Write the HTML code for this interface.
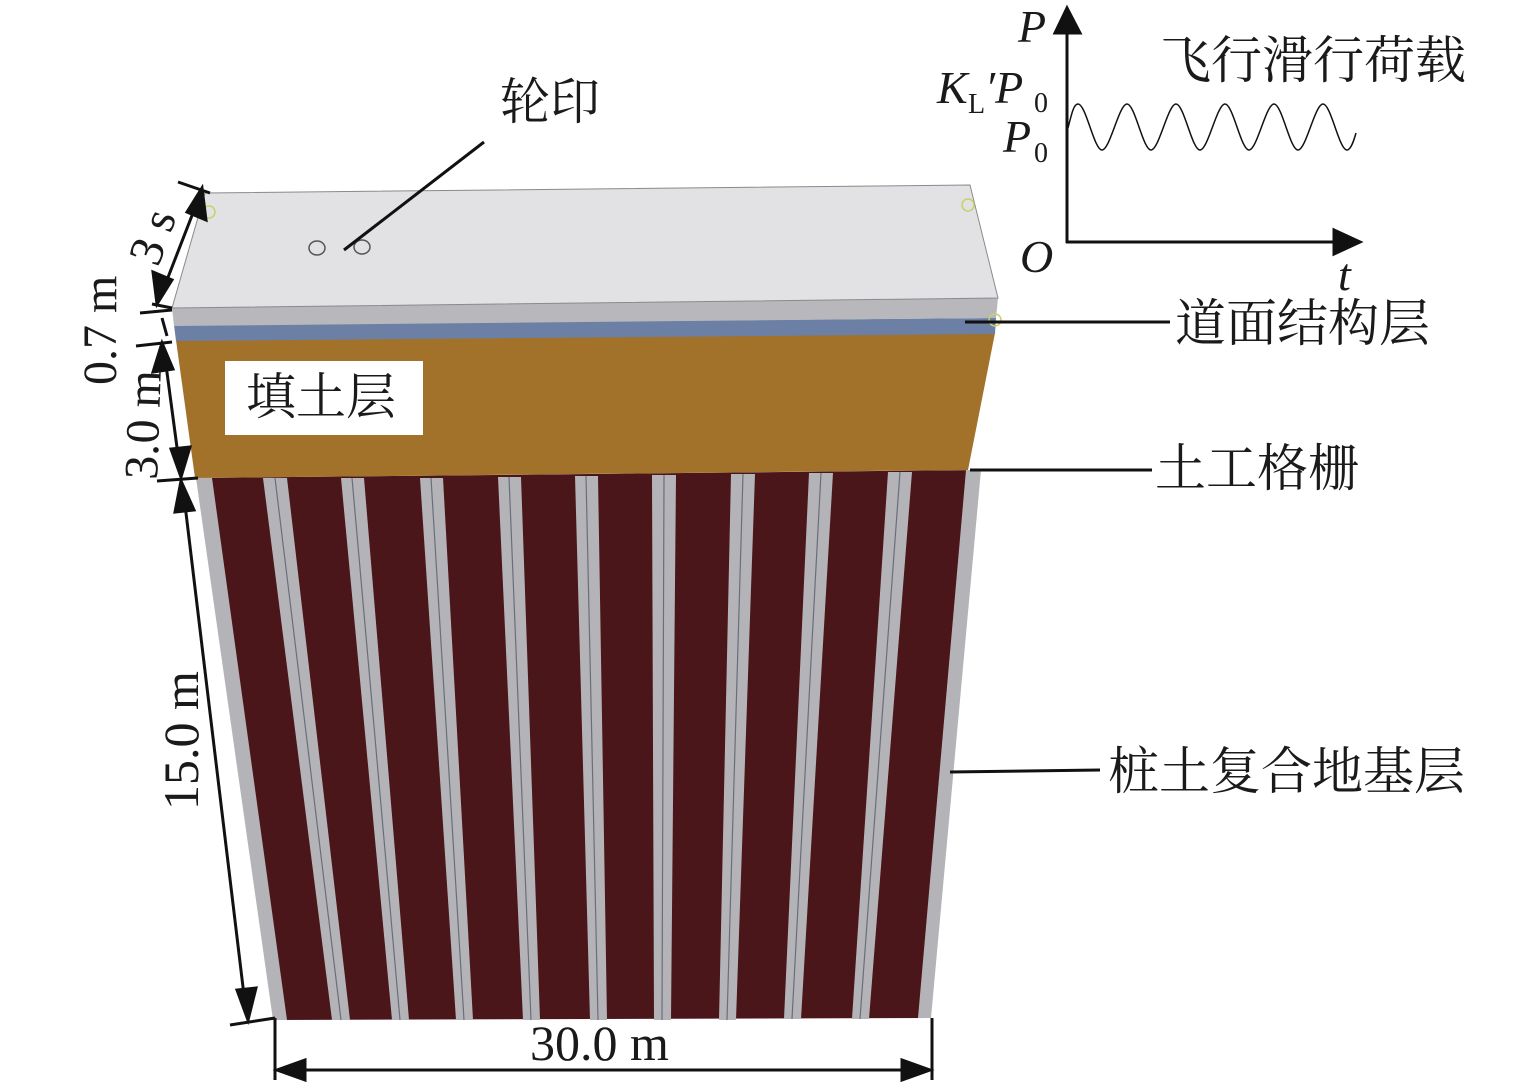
<!DOCTYPE html>
<html><head><meta charset="utf-8"><style>
html,body{margin:0;padding:0;background:#fff}
svg{display:block}
text{font-family:"Liberation Serif","Noto Serif CJK SC",serif;fill:#1a1a1a}
.cn{font-family:"Liberation Serif","Noto Serif CJK SC","Noto Sans CJK SC",serif}
</style></head><body>
<svg width="1535" height="1083" viewBox="0 0 1535 1083" xmlns="http://www.w3.org/2000/svg">
<!-- red pile block -->
<polygon points="198,478 980,470 930,1018 275,1020" fill="#4a161a"/>
<polygon points="196,478 212,478 287,1020 273,1020" fill="#b4b4b8"/>
<polygon points="966,470 981,470 931,1018 918,1018" fill="#b4b4b8"/>
<g fill="#b4b4b8">
<polygon points="263,478 287,478 350,1020 332,1020"/>
<polygon points="341,478 364,478 409,1020 392,1020"/>
<polygon points="420,478 443,478 473,1020 456,1020"/>
<polygon points="498,477 521,477 540,1020 523,1020"/>
<polygon points="575,476 598,476 607,1020 590,1020"/>
<polygon points="652,475 676,475 671,1020 654,1020"/>
<polygon points="731,474 755,474 736,1020 719,1020"/>
<polygon points="809,473 833,473 801,1019 784,1019"/>
<polygon points="888,472 912,472 869,1019 852,1019"/>
</g>
<g stroke="#6a6e7a" stroke-width="1.2">
<line x1="275" y1="478" x2="341" y2="1020"/>
<line x1="352" y1="478" x2="400" y2="1020"/>
<line x1="431" y1="478" x2="464" y2="1020"/>
<line x1="509" y1="477" x2="531" y2="1020"/>
<line x1="586" y1="476" x2="598" y2="1020"/>
<line x1="664" y1="475" x2="662" y2="1020"/>
<line x1="743" y1="474" x2="727" y2="1020"/>
<line x1="821" y1="473" x2="792" y2="1019"/>
<line x1="900" y1="472" x2="860" y2="1019"/>
</g>
<polygon points="176,340 995,333 968,470 195,478" fill="#a2722a"/>
<polygon points="174,325 996,318 995,334 176,341" fill="#6b80a4"/>
<polygon points="172,308 998,298 996,318 174,326" fill="#b8b8bc"/>
<polygon points="205,193 970,185 998,298 172,308" fill="#e2e2e4" stroke="#8a8a8e" stroke-width="1"/>
<circle cx="209" cy="212" r="6" fill="none" stroke="#c8d068" stroke-width="1.5"/>
<circle cx="968" cy="205" r="6" fill="none" stroke="#c8d068" stroke-width="1.5"/>
<circle cx="995" cy="320" r="6" fill="none" stroke="#c8d068" stroke-width="1.5"/>
<ellipse cx="317" cy="248" rx="8" ry="7" fill="none" stroke="#555" stroke-width="1.5"/>
<ellipse cx="362" cy="247" rx="8" ry="7" fill="none" stroke="#555" stroke-width="1.5"/>
<line x1="484" y1="142" x2="344" y2="250" stroke="#111" stroke-width="3"/>
<text x="500" y="119" font-size="50" class="cn">轮印</text>
<rect x="225" y="361" width="198" height="74" fill="#fff"/>
<text x="246" y="414" font-size="50" class="cn">填土层</text>
<line x1="965" y1="322" x2="1170" y2="322" stroke="#111" stroke-width="3"/>
<text x="1175" y="341" font-size="51" class="cn">道面结构层</text>
<line x1="970" y1="470" x2="1152" y2="470" stroke="#111" stroke-width="3"/>
<text x="1155" y="486" font-size="51" class="cn">土工格栅</text>
<line x1="950" y1="772" x2="1100" y2="770" stroke="#111" stroke-width="3"/>
<text x="1108" y="789" font-size="51" class="cn">桩土复合地基层</text>
<g stroke="#111" stroke-width="3" fill="#111">
<line x1="178" y1="182" x2="210" y2="193"/>
<line x1="152" y1="304" x2="172" y2="308"/>
<line x1="140" y1="313" x2="172" y2="310"/>
<line x1="136" y1="346" x2="172" y2="342"/>
<line x1="157" y1="481" x2="198" y2="478"/>
<line x1="230" y1="1025" x2="275" y2="1018"/>
<line x1="275" y1="1018" x2="275" y2="1080"/>
<line x1="932" y1="1018" x2="932" y2="1080"/>
<line x1="198" y1="200" x2="160" y2="298"/>
<polygon points="202,188 206,220 187,212"/><polygon points="157,304 153,272 172,280"/>
<line x1="162" y1="318" x2="167" y2="336"/>
<line x1="164" y1="350" x2="180" y2="470"/>
<polygon points="162,343 153,372 173,369"/><polygon points="181,477 171,449 190,447"/>
<line x1="183" y1="488" x2="246" y2="1012"/>
<polygon points="181,481 175,512 194,510"/><polygon points="248,1020 237,990 256,988"/>
<line x1="285" y1="1070" x2="922" y2="1070"/>
<polygon points="277,1070 305,1060 305,1080"/><polygon points="930,1070 902,1060 902,1080"/>
</g>
<text x="0" y="0" font-size="48" transform="translate(158,268) rotate(-70)">3 s</text>
<text x="0" y="0" font-size="48" transform="translate(116,385) rotate(-90)">0.7 m</text>
<text x="0" y="0" font-size="48" transform="translate(157,480) rotate(-88)">3.0 m</text>
<text x="0" y="0" font-size="50" transform="translate(198,810) rotate(-90)">15.0 m</text>
<text x="530" y="1060" font-size="50">30.0 m</text>
<g stroke="#111" stroke-width="3" fill="#111">
<line x1="1067" y1="243" x2="1067" y2="30"/>
<polygon points="1067,8 1055,33 1080,33"/>
<line x1="1066" y1="242" x2="1340" y2="242"/>
<polygon points="1360,242 1334,230 1334,254"/>
</g>
<path d="M1068,128 C1072,112 1074,104 1078,104 C1086,104 1094,150 1102,150 C1110,150 1119,104 1127,104 C1135,104 1143,150 1151,150 C1159,150 1168,104 1176,104 C1184,104 1192,150 1200,150 C1208,150 1217,104 1225,104 C1233,104 1241,150 1249,150 C1257,150 1266,104 1274,104 C1282,104 1290,150 1298,150 C1306,150 1315,104 1323,104 C1331,104 1339,150 1347,150 C1351,150 1354,140 1356,133" fill="none" stroke="#111" stroke-width="1.5"/>
<text x="1018" y="42" font-size="46" font-style="italic">P</text>
<text x="937" y="103" font-size="46" font-style="italic">K</text>
<text x="968" y="113" font-size="28">L</text>
<text x="985" y="103" font-size="46" font-style="italic">′P</text>
<text x="1034" y="112" font-size="28">0</text>
<text x="1003" y="152" font-size="46" font-style="italic">P</text>
<text x="1034" y="162" font-size="28">0</text>
<text x="1020" y="272" font-size="46" font-style="italic">O</text>
<text x="1338" y="290" font-size="46" font-style="italic">t</text>
<text x="1160" y="78" font-size="51" class="cn">飞行滑行荷载</text>
</svg>
</body></html>
